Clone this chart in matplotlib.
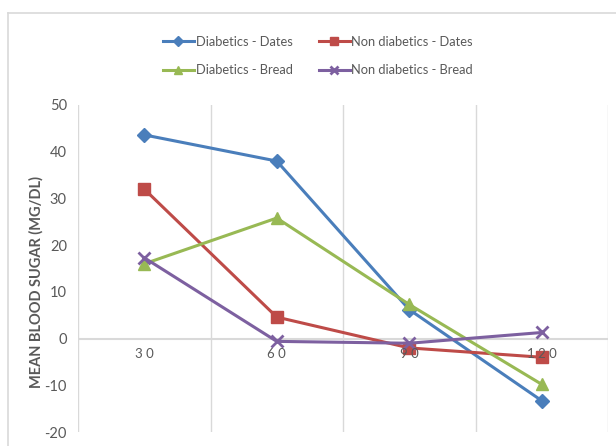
import matplotlib
matplotlib.use("Agg")
import matplotlib.pyplot as plt
from matplotlib.lines import Line2D

plt.rcParams['font.family'] = ['Lato', 'DejaVu Sans']

categories = ["30", "60", "90", "120"]
diabetics_dates = [43.6, 38.0, 6.2, -13.3]
non_diabetics_dates = [32.0, 4.6, -2.0, -4.0]
diabetics_bread = [16.0, 25.8, 7.3, -9.8]
non_diabetics_bread = [17.3, -0.6, -1.0, 1.3]
y_ticks = [-20, -10, 0, 10, 20, 30, 40, 50]

series = [
    ("Diabetics - Dates", diabetics_dates, "#4a7ebb", "D", 7),
    ("Non diabetics - Dates", non_diabetics_dates, "#be4b48", "s", 8),
    ("Diabetics - Bread", diabetics_bread, "#98b954", "^", 8.5),
    ("Non diabetics - Bread", non_diabetics_bread, "#7d60a0", "x", 8),
]

W, H = 616, 446
fig = plt.figure(figsize=(W / 100, H / 100), dpi=100)
ax = fig.add_axes([78 / W, (H - 432) / H, (608 - 78) / W, (432 - 105) / H])

# chart frame border (partially visible)
fig.add_artist(Line2D([8 / W, 1.0], [1 - 13 / H, 1 - 13 / H], transform=fig.transFigure,
                      color="#d9d9d9", lw=1.2))
fig.add_artist(Line2D([8 / W, 8 / W], [0, 1 - 13 / H], transform=fig.transFigure,
                      color="#d9d9d9", lw=1.2))

x = list(range(1, len(categories) + 1))
handles = []
for name, vals, color, marker, ms in series:
    mew = 2 if marker == "x" else 1
    h, = ax.plot(x, vals, color=color, lw=2.2, marker=marker, markersize=ms,
                 markeredgewidth=mew, markerfacecolor=color, markeredgecolor=color,
                 label=name, zorder=3)
    handles.append(h)

ax.set_xlim(0.5, len(categories) + 0.5)
ax.set_ylim(-20, 50)
ax.set_yticks(y_ticks)
ax.set_yticklabels([str(t) for t in y_ticks])
ax.set_xticks([])

for s in ax.spines.values():
    s.set_visible(False)
# left axis line and category gridlines
ax.axvline(0.5, color="#d9d9d9", lw=1.0, zorder=1)
for b in [1.5, 2.5, 3.5, 4.5]:
    ax.axvline(b, color="#d9d9d9", lw=1.0, zorder=1)
ax.axhline(0, color="#d9d9d9", lw=1.5, zorder=1)

# category labels just below the zero line
for xi, c in zip(x, categories):
    ax.text(xi, -2.0, " ".join(c), ha="center", va="top", fontsize=9.5, color="#595959")

ax.tick_params(axis="y", length=0, labelsize=10.5, labelcolor="#595959", pad=8)

fig.text(36 / W, 1 - 282 / H, "MEAN BLOOD SUGAR (MG/DL)", rotation=90, ha="center",
         va="center", fontsize=10.5, fontweight="bold", color="#595959")

leg = fig.legend(handles=[handles[0], handles[2], handles[1], handles[3]],
                 loc="center", bbox_to_anchor=(318 / W, 1 - 56 / H), ncol=2,
                 frameon=False, fontsize=9.3, labelcolor="#595959",
                 handlelength=2.4, handletextpad=0.15, columnspacing=2.0,
                 labelspacing=1.25, markerscale=0.75)

fig.savefig("out.png", dpi=100)
